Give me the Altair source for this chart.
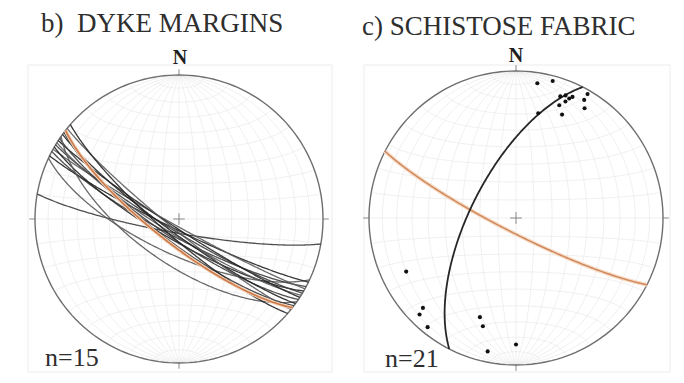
import numpy as np
import pandas as pd
import altair as alt

# ---------------- data ----------------
titles = ["b)\u00a0 DYKE MARGINS", "c) SCHISTOSE FABRIC"]
counts = ["n=15", "n=21"]

# b) dyke margin planes: dip direction / dip (lower hemisphere, equal area)
dyke_dipdir = [190, 205, 206, 208, 209, 210, 211, 212, 213, 214, 215, 216, 217, 219, 221]
dyke_dip = [82, 70, 84, 80, 86, 78, 83, 81, 85, 79, 65, 82, 77, 84, 80]
dyke_mean_dipdir = [218]
dyke_mean_dip = [76]

# c) poles to schistose fabric: trend / plunge
pole_trend = [9, 15, 20, 22, 25, 30, 21, 23, 30, 32, 12, 24, 24,
              244, 226, 225, 219, 200, 197, 180, 192]
pole_plunge = [8, 4, 13, 11, 10, 3, 19, 15, 8, 13, 28, 24, 12,
               18, 13, 8, 5, 29, 24, 15, 8]
girdle_dipdir = [297]
girdle_dip = [65]
fabric_orange_dipdir = [207]
fabric_orange_dip = [82]

# ---------------- helpers ----------------
def proj(n, e, d):
    s = 1.0 / np.sqrt(1.0 + d)
    return e * s, n * s

def great_circle(dd, dip, npts=181):
    t = np.linspace(0, np.pi, npts)
    a, b = np.radians(dd), np.radians(dip)
    sv = np.array([np.sin(a), -np.cos(a), 0.0])
    dv = np.array([np.cos(b) * np.cos(a), np.cos(b) * np.sin(a), np.sin(b)])
    v = np.outer(np.cos(t), sv) + np.outer(np.sin(t), dv)
    return proj(v[:, 0], v[:, 1], np.clip(v[:, 2], 0, 1))

def planes_df(dds, dips, prefix):
    rows = []
    for k, (dd, dp) in enumerate(zip(dds, dips)):
        x, y = great_circle(dd, dp)
        for i in range(len(x)):
            rows.append({"id": f"{prefix}{k}", "k": k % 3, "o": i, "x": x[i], "y": y[i]})
    return pd.DataFrame(rows)

def grid_df():
    rows = []
    beta = np.radians(np.arange(-90, 90.5, 2))
    for lam in range(10, 171, 10):
        l = np.radians(lam)
        x, y = proj(np.sin(beta), np.cos(beta) * np.cos(l), np.cos(beta) * np.sin(l))
        for i in range(len(x)):
            rows.append({"id": f"m{lam}", "o": i, "x": x[i], "y": y[i]})
    lamv = np.radians(np.arange(0, 180.5, 2))
    for bt in range(-80, 81, 10):
        b = np.radians(bt)
        x, y = proj(np.full_like(lamv, np.sin(b)), np.cos(b) * np.cos(lamv), np.cos(b) * np.sin(lamv))
        for i in range(len(x)):
            rows.append({"id": f"s{bt}", "o": i, "x": x[i], "y": y[i]})
    return pd.DataFrame(rows)

ang = np.radians(np.arange(0, 361, 2))
prim = pd.DataFrame({"id": "p", "o": np.arange(len(ang)), "x": np.sin(ang), "y": np.cos(ang)})
tk = 0.04
ticks = pd.DataFrame({
    "x": [0, 0, 1, -1, -tk, 0],
    "y": [1, -1, 0, 0, 0, -tk],
    "x2": [0, 0, 1 + tk, -1 - tk, tk, 0],
    "y2": [1 + tk, -1 - tk, 0, 0, 0, tk],
})

PW, PH = 334, 367
GRID = grid_df()

def panel(cx, cy, R, layers_fn, title, count, tpos, npos, cpos, frame, tsize):
    xs = alt.Scale(domain=[-cx / R, (PW - cx) / R], nice=False, zero=False)
    ys = alt.Scale(domain=[-(PH - cy) / R, cy / R], nice=False, zero=False)
    X = lambda f="x": alt.X(f"{f}:Q", scale=xs, axis=None)
    Y = lambda f="y": alt.Y(f"{f}:Q", scale=ys, axis=None)

    def lines(df, **kw):
        return alt.Chart(df).mark_line(**kw).encode(
            x=X(), y=Y(), detail="id:N", order="o:Q")

    fr = alt.Chart(pd.DataFrame({"a": [0]})).mark_rect(
        fill=None, stroke="#ececec", strokeWidth=1).encode(
        x=alt.value(frame[0]), x2=alt.value(frame[2]),
        y=alt.value(frame[1]), y2=alt.value(frame[3]))
    grid = lines(GRID, color="#e6e6e6", strokeWidth=0.6)
    pr = lines(prim, color="#6e6e6e", strokeWidth=1.4)
    tr = alt.Chart(ticks).mark_rule(color="#8a8a8a", strokeWidth=1).encode(
        x=X(), y=Y(), x2="x2:Q", y2="y2:Q")
    t1 = alt.Chart(pd.DataFrame({"t": [title]})).mark_text(
        font="Liberation Serif", fontSize=tsize, color="#2e2e2e", align="left",
        baseline="alphabetic").encode(x=alt.value(tpos[0]), y=alt.value(tpos[1]), text="t:N")
    t2 = alt.Chart(pd.DataFrame({"t": ["N"]})).mark_text(
        font="Liberation Serif", fontSize=20, fontWeight="bold", color="#1e1e1e",
        align="center", baseline="alphabetic").encode(
        x=alt.value(npos[0]), y=alt.value(npos[1]), text="t:N")
    t3 = alt.Chart(pd.DataFrame({"t": [count]})).mark_text(
        font="Liberation Serif", fontSize=26, color="#2e2e2e", align="left",
        baseline="alphabetic").encode(x=alt.value(cpos[0]), y=alt.value(cpos[1]), text="t:N")
    body = layers_fn(lines, X, Y)
    return alt.layer(fr, grid, tr, pr, *body, t1, t2, t3).properties(width=PW, height=PH)

def left_layers(lines, X, Y):
    d = planes_df(dyke_dipdir, dyke_dip, "d")
    gc = alt.Chart(d).mark_line(strokeWidth=1.3, opacity=0.9).encode(
        x=X(), y=Y(), detail="id:N", order="o:Q",
        color=alt.Color("k:N", scale=alt.Scale(domain=[0, 1, 2],
                        range=["#3c3c3c", "#5a5a5a", "#222222"]), legend=None))
    return [
        gc,
        lines(planes_df(dyke_mean_dipdir, dyke_mean_dip, "o"), color="#f3d2bb", strokeWidth=3.5),
        lines(planes_df(dyke_mean_dipdir, dyke_mean_dip, "o"), color="#cc7a48", strokeWidth=1.6),
    ]

poles = pd.DataFrame({"tr": pole_trend, "pl": pole_plunge})
_pr, _pp = np.radians(poles["tr"]), np.radians(poles["pl"])
poles["x"], poles["y"] = proj(np.cos(_pp) * np.cos(_pr), np.cos(_pp) * np.sin(_pr), np.sin(_pp))

def right_layers(lines, X, Y):
    return [
        lines(planes_df(fabric_orange_dipdir, fabric_orange_dip, "f"), color="#f7dcc8", strokeWidth=4),
        lines(planes_df(fabric_orange_dipdir, fabric_orange_dip, "f"), color="#d0895c", strokeWidth=1.5),
        lines(planes_df(girdle_dipdir, girdle_dip, "g"), color="#262626", strokeWidth=1.8),
        alt.Chart(poles).mark_circle(size=17, color="#111", opacity=1).encode(x=X(), y=Y()),
    ]

left = panel(171, 211, 144, left_layers, titles[0], counts[0],
             (33, 24), (172, 56), (37, 358), (20, 57, 324, 364), 27)
right = panel(174, 210, 147, right_layers, titles[1], counts[1],
              (20, 27), (174, 54), (43, 359), (22, 57, 328, 364), 27)

chart = alt.hconcat(left, right, spacing=0).properties(padding=0).configure_view(stroke=None)
chart.save("out.html", embed_options={"renderer": "svg", "actions": False})
